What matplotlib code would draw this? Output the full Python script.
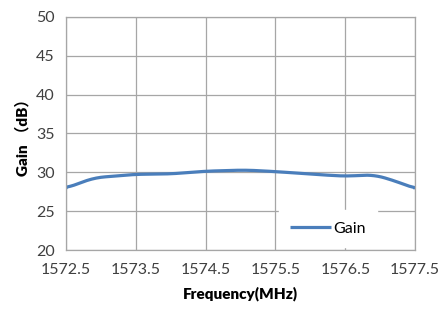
import matplotlib.pyplot as plt
import numpy as np

# values
freq = [1572.5, 1572.9, 1573.5, 1574.0, 1574.5, 1575.07, 1575.5,
        1576.04, 1576.5, 1576.9, 1577.18, 1577.5]
gain = [27.95, 29.3, 29.75, 29.8, 30.15, 30.3, 30.1,
        29.75, 29.5, 29.7, 29.0, 27.9]
x_ticks = [1572.5, 1573.5, 1574.5, 1575.5, 1576.5, 1577.5]
y_ticks = [20, 25, 30, 35, 40, 45, 50]

fonts = ['Lato', 'Noto Sans CJK SC', 'DejaVu Sans']
plt.rcParams['font.family'] = fonts

fig = plt.figure(figsize=(4.45, 3.13), dpi=100)
ax = fig.add_axes([0.148, 0.201, 0.785, 0.745])

# smooth the line a bit like the spreadsheet curve
xs = np.linspace(freq[0], freq[-1], 300)
ys = np.interp(xs, freq, gain)
k = 9
ys_pad = np.concatenate([np.full(k, ys[0]), ys, np.full(k, ys[-1])])
ys_s = np.convolve(ys_pad, np.ones(2 * k + 1) / (2 * k + 1), mode='same')[k:-k]
ys_s[0], ys_s[-1] = gain[0], gain[-1]
ax.plot(xs, ys_s, color='#4a7ebb', lw=2.3, label='Gain', solid_capstyle='butt')

ax.set_xlim(1572.5, 1577.5)
ax.set_ylim(20, 50)
ax.set_xticks(x_ticks)
ax.set_xticklabels([f'{v:.1f}' for v in x_ticks])
ax.set_yticks(y_ticks)
ax.grid(True, color='#a6a6a6', lw=0.9)
ax.set_axisbelow(True)
for s in ax.spines.values():
    s.set_color('#a6a6a6')
    s.set_linewidth(0.9)
ax.tick_params(length=0, labelsize=11.5, colors='#404040', pad=8)
ax.tick_params(axis='x', pad=9)

ax.set_xlabel('Frequency(MHz)', fontsize=11, fontweight='heavy', labelpad=7)
ax.set_ylabel('Gain （dB）', fontsize=11, fontweight='heavy', labelpad=5)

leg = ax.legend(loc='lower left', bbox_to_anchor=(0.6, 0.0), frameon=True,
                fancybox=False, fontsize=11.5, handlelength=2.6,
                handletextpad=0.1, borderpad=0.7, borderaxespad=0.2)
leg.get_frame().set_facecolor('white')
leg.get_frame().set_edgecolor('white')
leg.get_frame().set_alpha(1)

fig.savefig('out.png', dpi=100)
